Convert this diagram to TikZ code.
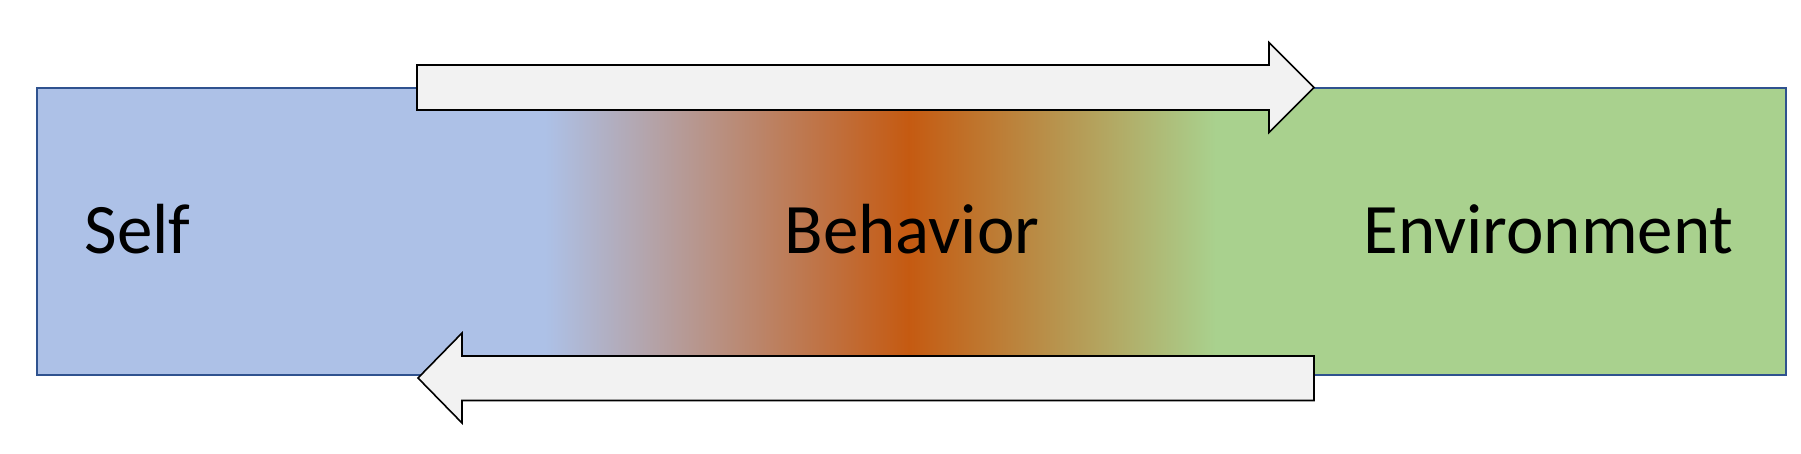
\documentclass[tikz,border=0pt]{standalone}
\usepackage{fontspec}
\setmainfont{Carlito}
\definecolor{selfblue}{HTML}{ADC1E7}
\definecolor{behorange}{HTML}{C55A11}
\definecolor{envgreen}{HTML}{A9D18E}
\definecolor{rimblue}{HTML}{2F528F}
\definecolor{arrowfill}{HTML}{F2F2F2}
\begin{document}
\begin{tikzpicture}[x=1pt,y=-1pt,
  blockarrow/.style={draw=black,fill=arrowfill,line width=1.6pt,line join=miter},
  label/.style={inner sep=0pt,anchor=base,font=\fontsize{71}{80}\selectfont},
  ]
\useasboundingbox (0,0) rectangle (1801,454);
% band
\fill[selfblue] (37,88) rectangle (546,375);
\shade[left color=selfblue,right color=behorange] (545,88) rectangle (909,375);
\shade[left color=behorange,right color=envgreen] (908,88) rectangle (1216,375);
\fill[envgreen] (1215,88) rectangle (1786,375);
\draw[rimblue,line width=1.6pt] (37,88) rectangle (1786,375);
% labels
\node[label] (self) at (137.5,254) {Self};
\node[label] (behavior) at (912,254) {Behavior};
\node[label] (env) at (1548.5,254) {Environment};
% arrows
\draw[blockarrow] (417,65) -- (1269,65) -- (1269,42.5) -- (1314,87.5) -- (1269,132.5) -- (1269,110) -- (417,110) -- cycle;
\draw[blockarrow] (1314,356) -- (462,356) -- (462,333) -- (418,378) -- (462,423) -- (462,400.5) -- (1314,400.5) -- cycle;
\end{tikzpicture}
\end{document}
